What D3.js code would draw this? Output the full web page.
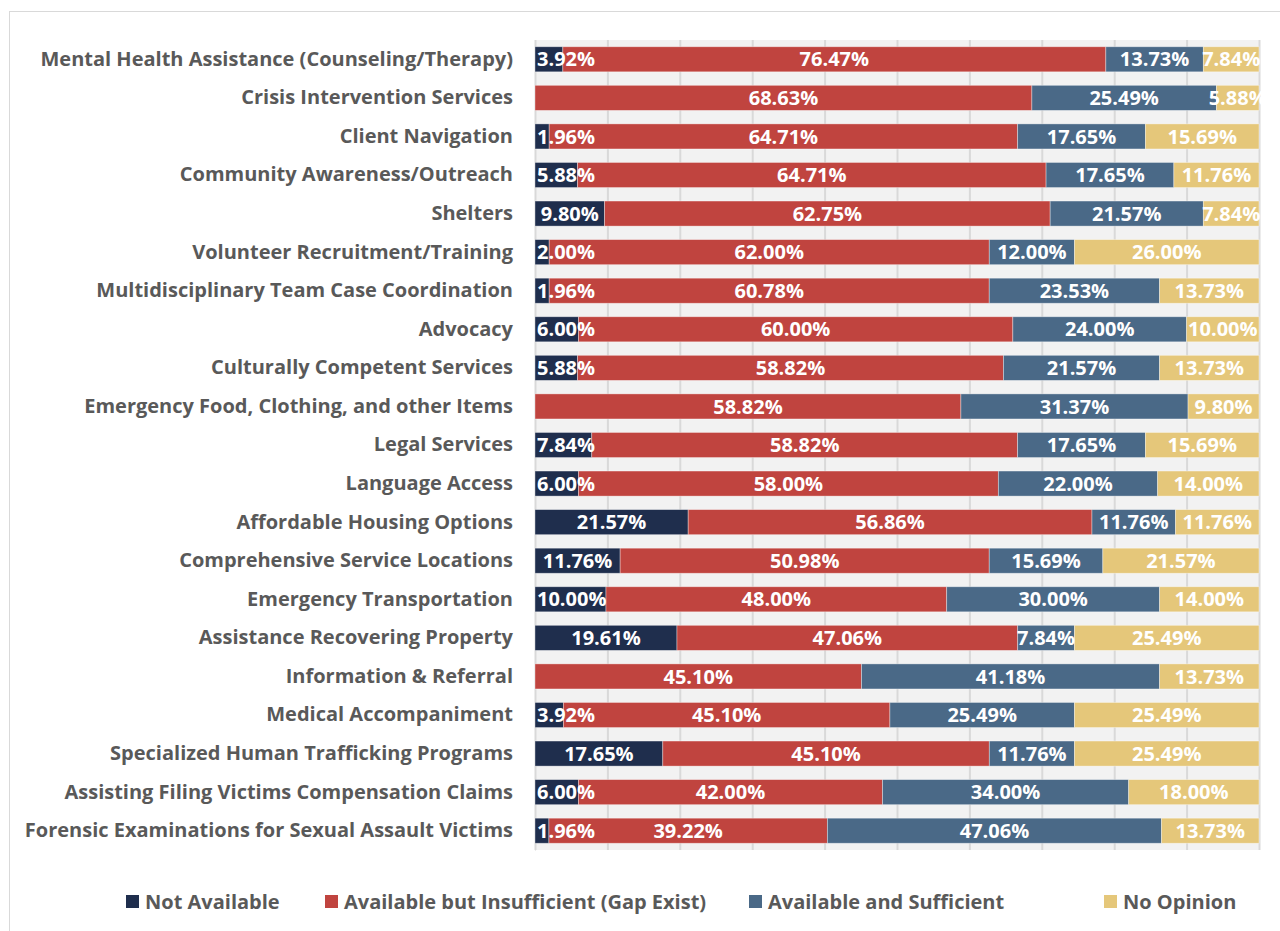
<!DOCTYPE html>
<html>
<head>
<meta charset="utf-8">
<script src="https://cdn.jsdelivr.net/npm/d3@7"></script>
<style>
  body { margin: 0; background: #fff; }
  text { font-family: "Open Sans", sans-serif; font-weight: 700; }
</style>
</head>
<body>
<script>
var categories = [
  "Mental Health Assistance (Counseling/Therapy)",
  "Crisis Intervention Services",
  "Client Navigation",
  "Community Awareness/Outreach",
  "Shelters",
  "Volunteer Recruitment/Training",
  "Multidisciplinary Team Case Coordination",
  "Advocacy",
  "Culturally Competent Services",
  "Emergency Food, Clothing, and other Items",
  "Legal Services",
  "Language Access",
  "Affordable Housing Options",
  "Comprehensive Service Locations",
  "Emergency Transportation",
  "Assistance Recovering Property",
  "Information & Referral",
  "Medical Accompaniment",
  "Specialized Human Trafficking Programs",
  "Assisting Filing Victims Compensation Claims",
  "Forensic Examinations for Sexual Assault Victims"
];

var seriesNames = ["Not Available", "Available but Insufficient (Gap Exist)", "Available and Sufficient", "No Opinion"];
var seriesColors = ["#1f2e4d", "#c0443f", "#4a6987", "#e5c77a"];

var notAvailable = [3.92, 0, 1.96, 5.88, 9.80, 2.00, 1.96, 6.00, 5.88, 0, 7.84, 6.00, 21.57, 11.76, 10.00, 19.61, 0, 3.92, 17.65, 6.00, 1.96];
var insufficient = [76.47, 68.63, 64.71, 64.71, 62.75, 62.00, 60.78, 60.00, 58.82, 58.82, 58.82, 58.00, 56.86, 50.98, 48.00, 47.06, 45.10, 45.10, 45.10, 42.00, 39.22];
var sufficient   = [13.73, 25.49, 17.65, 17.65, 21.57, 12.00, 23.53, 24.00, 21.57, 31.37, 17.65, 22.00, 11.76, 15.69, 30.00, 7.84, 41.18, 25.49, 11.76, 34.00, 47.06];
var noOpinion    = [7.84, 5.88, 15.69, 11.76, 7.84, 26.00, 13.73, 10.00, 13.73, 9.80, 15.69, 14.00, 11.76, 21.57, 14.00, 25.49, 13.73, 25.49, 25.49, 18.00, 13.73];

var width = 1280, height = 931;
var margin = { top: 40, right: 21, bottom: 81, left: 535 };
var plotW = width - margin.left - margin.right;
var plotH = height - margin.top - margin.bottom;

var svg = d3.select("body").append("svg")
    .attr("width", width)
    .attr("height", height);

// outer chart frame
svg.append("rect")
    .attr("x", 9.5).attr("y", 11.5)
    .attr("width", 1300).attr("height", 1000)
    .attr("fill", "none")
    .attr("stroke", "#d9d9d9");

var g = svg.append("g")
    .attr("transform", `translate(${margin.left}, ${margin.top})`);

// rows: values normalised to row total (100% stacked)
var rows = categories.map(function(c, i) {
  var vals = [notAvailable[i], insufficient[i], sufficient[i], noOpinion[i]];
  var total = d3.sum(vals);
  var acc = 0;
  var segs = vals.map(function(v, k) {
    var s = { key: k, value: v, x0: acc / total, x1: (acc + v) / total };
    acc += v;
    return s;
  });
  return { name: c, segs: segs };
});

var x = d3.scaleLinear().domain([0, 1]).range([0, plotW]);
var y = d3.scaleBand().domain(categories).range([0, plotH]).paddingInner(0.35).paddingOuter(0.175);

g.append("rect")
    .attr("width", plotW).attr("height", plotH)
    .attr("fill", "#f2f2f2");

g.append("g")
    .attr("class", "grid")
    .call(d3.axisBottom(x).ticks(10).tickSize(plotH).tickFormat(""))
    .call(gr => gr.select(".domain").remove())
    .call(gr => gr.selectAll("line").attr("stroke", "#d9d9d9").attr("stroke-width", 2));

var yAxis = g.append("g")
    .call(d3.axisLeft(y).tickSize(0).tickPadding(22));
yAxis.select(".domain").attr("stroke", "#d9d9d9");
yAxis.selectAll("text")
    .attr("fill", "#595959")
    .style("font-size", "20px");

var clip = svg.append("clipPath").attr("id", "plotclip")
  .append("rect").attr("x", -1).attr("y", 0).attr("width", plotW + 3).attr("height", plotH);

var row = g.selectAll(".row")
  .data(rows)
  .enter().append("g")
    .attr("class", "row")
    .attr("transform", d => `translate(0, ${y(d.name)})`);

row.selectAll("rect")
  .data(d => d.segs.filter(s => s.value > 0))
  .enter().append("rect")
    .attr("x", s => x(s.x0))
    .attr("width", s => x(s.x1) - x(s.x0))
    .attr("height", y.bandwidth())
    .attr("fill", s => seriesColors[s.key])
    .attr("stroke", "#ffffff")
    .attr("stroke-opacity", 0.45)
    .attr("stroke-width", 0.8);

// data labels, centred in segment but kept inside the left edge
var labels = g.append("g").attr("clip-path", "url(#plotclip)");
rows.forEach(function(r) {
  r.segs.filter(s => s.value > 0).forEach(function(s) {
    var t = labels.append("text")
        .attr("fill", "#ffffff")
        .style("font-size", "20px")
        .attr("y", y(r.name) + y.bandwidth() / 2)
        .attr("dy", "0.36em")
        .text(d3.format(".2f")(s.value) + "%");
    var w = t.node().getComputedTextLength();
    var cx = x((s.x0 + s.x1) / 2) - w / 2;
    t.attr("x", Math.max(2, cx));
  });
});

// legend
var legendX = [126, 325, 749, 1104];
var legend = svg.append("g").attr("transform", "translate(0, 902)");
seriesNames.forEach(function(n, i) {
  legend.append("rect")
      .attr("x", legendX[i]).attr("y", -7)
      .attr("width", 13).attr("height", 13)
      .attr("fill", seriesColors[i]);
  legend.append("text")
      .attr("x", legendX[i] + 19)
      .attr("dy", "0.36em")
      .attr("fill", "#595959")
      .style("font-size", "20px")
      .text(n);
});
</script>
</body>
</html>
